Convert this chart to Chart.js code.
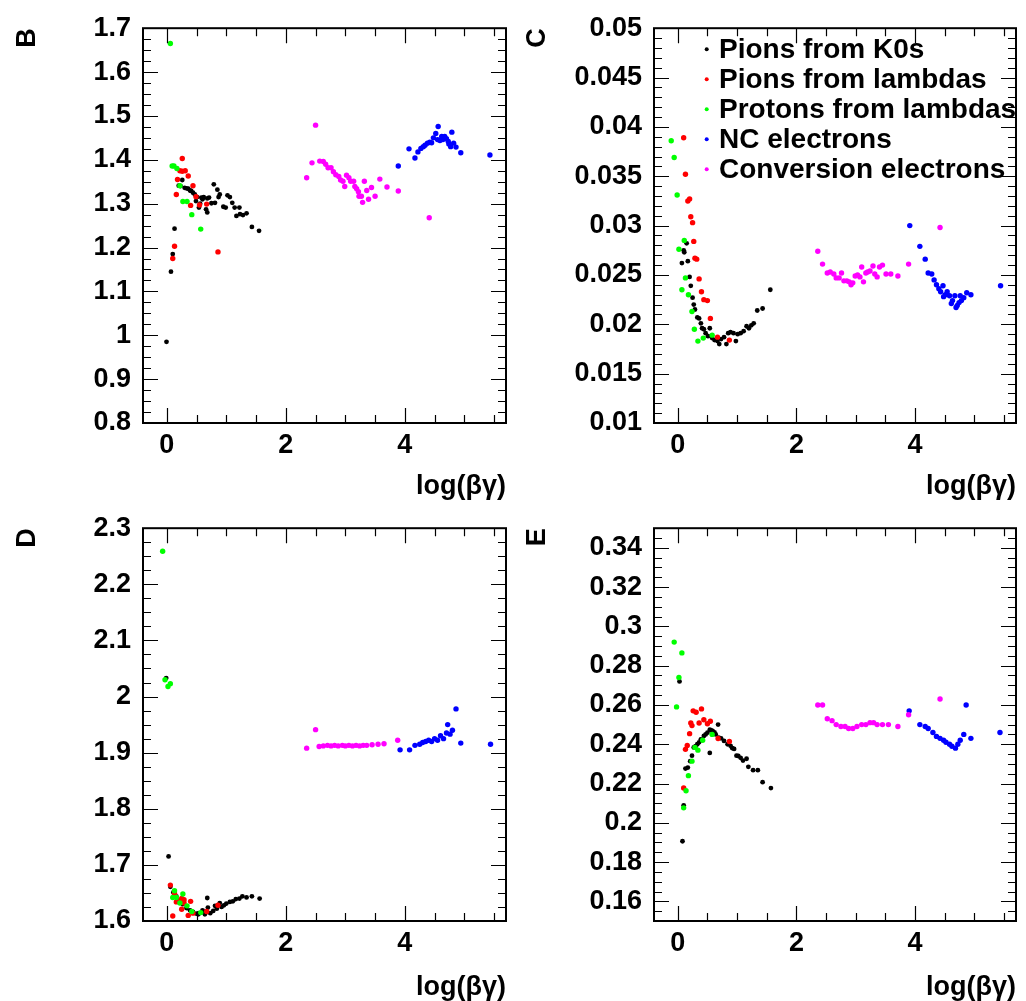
<!DOCTYPE html>
<html>
<head>
<meta charset="utf-8">
<script src="https://cdn.jsdelivr.net/npm/chart.js@4.4.1/dist/chart.umd.min.js"></script>
<style>
  body { margin: 0; background: #fff; }
  .pad { position: absolute; }
</style>
</head>
<body>
<div class="pad" style="left:0;top:0"><canvas id="cB" width="513" height="500"></canvas></div>
<div class="pad" style="left:513px;top:0"><canvas id="cC" width="513" height="500"></canvas></div>
<div class="pad" style="left:0;top:500px"><canvas id="cD" width="513" height="501"></canvas></div>
<div class="pad" style="left:513px;top:500px"><canvas id="cE" width="513" height="501"></canvas></div>
<script>
// series names + colours (same in every pad)
const seriesNames = ['Pions from K0s', 'Pions from lambdas', 'Protons from lambdas', 'NC electrons', 'Conversion electrons'];
const seriesColors = ['#000000', '#ff0000', '#00ff00', '#0000ff', '#ff00ff'];

// tick labels
const xTicks = [0, 2, 4];
const yTicksB = [0.8, 0.9, 1, 1.1, 1.2, 1.3, 1.4, 1.5, 1.6, 1.7];
const yTicksC = [0.01, 0.015, 0.02, 0.025, 0.03, 0.035, 0.04, 0.045, 0.05];
const yTicksD = [1.6, 1.7, 1.8, 1.9, 2, 2.1, 2.2, 2.3];
const yTicksE = [0.16, 0.18, 0.2, 0.22, 0.24, 0.26, 0.28, 0.3, 0.32, 0.34];

// ---- pad B ----
const k0sB = [[-0.005,0.985],[0.07,1.145],[0.10,1.185],[0.13,1.243],[0.20,1.341],[0.23,1.340],[0.26,1.354],[0.30,1.336],[0.33,1.335],[0.36,1.334],[0.39,1.330],[0.41,1.329],[0.44,1.325],[0.47,1.321],[0.51,1.315],[0.49,1.306],[0.54,1.291],[0.56,1.300],[0.58,1.314],[0.60,1.310],[0.62,1.315],[0.68,1.312],[0.71,1.314],[0.66,1.287],[0.68,1.280],[0.75,1.301],[0.81,1.302],[0.79,1.344],[0.85,1.332],[0.87,1.315],[0.89,1.321],[0.95,1.293],[0.99,1.291],[1.02,1.319],[1.06,1.315],[1.10,1.302],[1.14,1.291],[1.17,1.272],[1.22,1.291],[1.23,1.276],[1.28,1.274],[1.34,1.278],[1.43,1.247],[1.55,1.238]];
const piLamB = [[0.26,1.403],[0.22,1.375],[0.26,1.374],[0.31,1.375],[0.18,1.355],[0.36,1.363],[0.16,1.321],[0.44,1.341],[0.49,1.316],[0.40,1.296],[0.55,1.297],[0.67,1.299],[0.13,1.203],[0.10,1.175],[0.86,1.190]];
const pLamB = [[0.06,1.665],[0.09,1.386],[0.12,1.386],[0.17,1.380],[0.22,1.341],[0.27,1.305],[0.34,1.305],[0.42,1.275],[0.57,1.242]];
const ncB = [[3.89,1.386],[4.07,1.425],[4.17,1.404],[4.22,1.418],[4.27,1.426],[4.31,1.430],[4.34,1.433],[4.38,1.438],[4.42,1.440],[4.45,1.439],[4.48,1.450],[4.52,1.460],[4.56,1.476],[4.55,1.446],[4.59,1.444],[4.62,1.453],[4.64,1.446],[4.67,1.453],[4.70,1.448],[4.73,1.442],[4.74,1.436],[4.77,1.430],[4.79,1.463],[4.82,1.438],[4.86,1.429],[4.94,1.416],[5.43,1.411]];
const convB = [[2.50,1.479],[2.35,1.359],[2.44,1.393],[2.57,1.397],[2.63,1.396],[2.67,1.390],[2.71,1.382],[2.76,1.382],[2.80,1.373],[2.84,1.366],[2.89,1.362],[2.92,1.354],[2.96,1.351],[2.99,1.339],[3.02,1.365],[3.06,1.359],[3.09,1.351],[3.14,1.351],[3.16,1.339],[3.19,1.334],[3.22,1.327],[3.23,1.317],[3.27,1.317],[3.29,1.303],[3.32,1.351],[3.36,1.330],[3.39,1.310],[3.44,1.337],[3.50,1.317],[3.58,1.356],[3.70,1.338],[3.89,1.329],[4.41,1.268]];

// ---- pad C ----
const k0sC = [[0.15,0.0282],[0.10,0.0275],[0.11,0.0273],[0.07,0.0262],[0.17,0.0264],[0.20,0.0248],[0.22,0.0239],[0.25,0.0227],[0.27,0.0220],[0.29,0.0215],[0.33,0.0207],[0.36,0.0206],[0.39,0.0201],[0.41,0.0196],[0.44,0.0195],[0.47,0.0191],[0.51,0.0188],[0.54,0.0196],[0.58,0.0186],[0.62,0.0184],[0.67,0.0183],[0.70,0.0180],[0.73,0.0185],[0.78,0.0187],[0.82,0.0180],[0.85,0.0191],[0.89,0.0192],[0.94,0.0191],[0.98,0.0183],[1.01,0.0190],[1.06,0.0191],[1.11,0.0193],[1.16,0.0198],[1.20,0.0196],[1.24,0.0199],[1.28,0.0201],[1.34,0.0214],[1.43,0.0216],[1.56,0.0235]];
const piLamC = [[0.10,0.0389],[0.13,0.0352],[0.20,0.0327],[0.17,0.0325],[0.22,0.0309],[0.25,0.0303],[0.27,0.0284],[0.29,0.0267],[0.32,0.0266],[0.36,0.0246],[0.40,0.0233],[0.44,0.0225],[0.50,0.0224],[0.55,0.0206],[0.67,0.0187],[0.87,0.0184]];
const pLamC = [[-0.11,0.0386],[-0.06,0.0369],[-0.01,0.0331],[0.11,0.0285],[0.02,0.0276],[0.13,0.0247],[0.07,0.0235],[0.18,0.0230],[0.24,0.0213],[0.28,0.0195],[0.34,0.0183],[0.43,0.0186],[0.58,0.0189]];
const ncC = [[3.91,0.0300],[4.08,0.0279],[4.17,0.0266],[4.22,0.0252],[4.28,0.0251],[4.32,0.0245],[4.36,0.0240],[4.40,0.0236],[4.43,0.0233],[4.47,0.0239],[4.48,0.0228],[4.51,0.0230],[4.54,0.0233],[4.58,0.0229],[4.61,0.0221],[4.63,0.0224],[4.67,0.0229],[4.69,0.0217],[4.71,0.0219],[4.74,0.0222],[4.76,0.0229],[4.78,0.0224],[4.82,0.0227],[4.87,0.0232],[4.94,0.0230],[5.44,0.0239]];
const convC = [[2.36,0.0274],[2.44,0.0261],[2.52,0.0252],[2.57,0.0253],[2.63,0.0251],[2.67,0.0247],[2.72,0.0247],[2.76,0.0252],[2.80,0.0244],[2.85,0.0244],[2.89,0.0243],[2.92,0.0240],[2.95,0.0242],[2.99,0.0249],[3.03,0.0250],[3.07,0.0248],[3.10,0.0258],[3.13,0.0243],[3.17,0.0252],[3.20,0.0253],[3.24,0.0254],[3.29,0.0259],[3.32,0.0251],[3.36,0.0248],[3.40,0.0258],[3.45,0.0260],[3.51,0.0251],[3.59,0.0251],[3.71,0.0249],[3.89,0.0261],[4.42,0.0298]];

// ---- pad D ----
const k0sD = [[-0.01,2.033],[0.03,1.715],[0.06,1.661],[0.11,1.651],[0.16,1.644],[0.22,1.637],[0.27,1.630],[0.33,1.623],[0.39,1.619],[0.44,1.616],[0.50,1.613],[0.53,1.612],[0.54,1.614],[0.60,1.619],[0.64,1.616],[0.64,1.612],[0.68,1.641],[0.69,1.624],[0.73,1.614],[0.78,1.618],[0.81,1.627],[0.84,1.622],[0.89,1.632],[0.92,1.625],[0.96,1.628],[1.00,1.631],[1.06,1.634],[1.11,1.635],[1.16,1.639],[1.22,1.640],[1.27,1.644],[1.34,1.642],[1.43,1.644],[1.56,1.640]];
const piLamD = [[0.06,1.664],[0.10,1.609],[0.13,1.649],[0.16,1.634],[0.21,1.635],[0.25,1.640],[0.29,1.638],[0.29,1.632],[0.25,1.621],[0.40,1.635],[0.36,1.610],[0.44,1.614],[0.67,1.617],[0.86,1.628]];
const pLamD = [[-0.07,2.259],[-0.03,2.030],[0.02,2.018],[0.06,2.023],[0.13,1.654],[0.10,1.642],[0.16,1.642],[0.22,1.632],[0.27,1.648],[0.34,1.627],[0.42,1.617],[0.57,1.615]];
const ncD = [[3.92,1.905],[4.08,1.905],[4.17,1.913],[4.25,1.915],[4.30,1.918],[4.35,1.920],[4.40,1.922],[4.45,1.920],[4.50,1.925],[4.55,1.922],[4.60,1.930],[4.65,1.925],[4.70,1.935],[4.72,1.950],[4.76,1.933],[4.80,1.940],[4.86,1.978],[4.94,1.917],[5.44,1.915]];
const convD = [[2.35,1.908],[2.50,1.941],[2.56,1.911],[2.63,1.912],[2.70,1.913],[2.76,1.912],[2.82,1.913],[2.88,1.912],[2.95,1.913],[3.00,1.912],[3.06,1.913],[3.12,1.912],[3.18,1.913],[3.24,1.912],[3.30,1.913],[3.36,1.913],[3.45,1.914],[3.55,1.915],[3.65,1.916],[3.88,1.922]];

// ---- pad E ----
const k0sE = [[0.03,0.272],[0.08,0.1906],[0.10,0.2089],[0.13,0.2276],[0.17,0.2281],[0.21,0.2314],[0.24,0.2342],[0.27,0.2384],[0.30,0.239],[0.33,0.240],[0.36,0.241],[0.39,0.2425],[0.44,0.2442],[0.47,0.245],[0.50,0.2459],[0.54,0.2474],[0.57,0.247],[0.59,0.2467],[0.62,0.246],[0.64,0.245],[0.68,0.250],[0.69,0.2434],[0.73,0.243],[0.78,0.2417],[0.84,0.240],[0.89,0.2392],[0.92,0.238],[0.95,0.2376],[0.54,0.2356],[0.99,0.2342],[1.02,0.234],[1.06,0.2331],[1.10,0.2317],[1.16,0.2326],[1.19,0.2285],[1.27,0.2268],[1.35,0.2268],[1.43,0.2207],[1.57,0.2177]];
const piLamE = [[0.26,0.257],[0.31,0.2563],[0.40,0.258],[0.22,0.2508],[0.24,0.2495],[0.36,0.2508],[0.44,0.2525],[0.50,0.2504],[0.55,0.2517],[0.20,0.2454],[0.16,0.2394],[0.68,0.2429],[0.87,0.2414],[0.10,0.2177],[0.13,0.2374]];
const pLamE = [[-0.06,0.292],[0.07,0.2865],[0.02,0.274],[-0.02,0.259],[0.29,0.2384],[0.34,0.237],[0.42,0.242],[0.58,0.245],[0.10,0.2076],[0.14,0.2163],[0.18,0.224],[0.24,0.2314]];
const ncE = [[3.90,0.257],[4.08,0.250],[4.17,0.249],[4.22,0.248],[4.30,0.246],[4.36,0.244],[4.42,0.243],[4.48,0.242],[4.52,0.241],[4.58,0.240],[4.62,0.239],[4.68,0.238],[4.72,0.240],[4.76,0.242],[4.82,0.245],[4.86,0.260],[4.94,0.243],[5.43,0.246]];
const convE = [[2.36,0.260],[2.44,0.260],[2.52,0.253],[2.60,0.252],[2.67,0.250],[2.75,0.249],[2.82,0.249],[2.88,0.248],[2.95,0.248],[3.02,0.249],[3.10,0.250],[3.17,0.250],[3.24,0.251],[3.30,0.251],[3.36,0.250],[3.45,0.250],[3.55,0.250],[3.71,0.249],[3.89,0.255],[4.42,0.263]];

Chart.defaults.font.family = "'Liberation Sans', Arial, sans-serif";
Chart.defaults.font.weight = 'bold';
Chart.defaults.font.size = 27;
Chart.defaults.color = '#000';

// ROOT-like frame with inward ticks on all four sides
const rootFrame = {
  id: 'rootFrame',
  afterDraw(chart, args, opts) {
    const { ctx, chartArea: a, scales: { x, y } } = chart;
    ctx.save();
    ctx.strokeStyle = '#000';
    ctx.lineWidth = 1.2;
    ctx.beginPath();
    const marks = (scale, step, len, horiz) => {
      const i0 = Math.ceil(scale.min / step - 1e-6), i1 = Math.floor(scale.max / step + 1e-6);
      for (let i = i0; i <= i1; i++) {
        const p = Math.round(scale.getPixelForValue(i * step)) + 0.5;
        if (horiz) {
          ctx.moveTo(p, a.bottom); ctx.lineTo(p, a.bottom - len);
          ctx.moveTo(p, a.top); ctx.lineTo(p, a.top + len);
        } else {
          ctx.moveTo(a.left, p); ctx.lineTo(a.left + len, p);
          ctx.moveTo(a.right, p); ctx.lineTo(a.right - len, p);
        }
      }
    };
    marks(x, opts.xMajor, 15, true);
    marks(x, opts.xMinor, 8, true);
    marks(y, opts.yMajor, 15, false);
    marks(y, opts.yMinor, 8, false);
    ctx.stroke();
    ctx.lineWidth = 2;
    ctx.strokeRect(a.left, a.top, a.right - a.left, a.bottom - a.top);

    if (opts.legend) {
      ctx.font = "bold 28px 'Liberation Sans', Arial, sans-serif";
      ctx.textBaseline = 'alphabetic';
      ctx.textAlign = 'left';
      chart.data.datasets.forEach((ds, i) => {
        ctx.fillStyle = ds.backgroundColor;
        ctx.beginPath();
        ctx.arc(a.left + 52.7, a.top + 21 + 30 * i, 2, 0, Math.PI * 2);
        ctx.fill();
        ctx.fillStyle = '#000';
        ctx.fillText(ds.label, a.left + 65, a.top + 30 + 30 * i);
      });
    }
    ctx.restore();
  }
};

function makePad(id, letter, series, yTicks, yMin, yMax, yMinor, area, titlePad, legend) {
  const cv = document.getElementById(id);
  const W = cv.width, H = cv.height;
  new Chart(cv, {
    type: 'scatter',
    data: {
      datasets: series.map((pts, i) => ({
        label: seriesNames[i],
        data: pts.map(p => ({ x: p[0], y: p[1] })),
        backgroundColor: seriesColors[i],
        borderWidth: 0,
        pointRadius: i === 0 ? 2.4 : 2.7,
        order: 4 - i
      }))
    },
    options: {
      responsive: false,
      animation: false,
      devicePixelRatio: 1,
      layout: { padding: { left: 0, top: area.top, right: W - area.right, bottom: 0 } },
      plugins: {
        legend: { display: false },
        tooltip: { enabled: false },
        rootFrame: { xMajor: 2, xMinor: 0.5, yMajor: yTicks[1] - yTicks[0], yMinor: yMinor, legend: legend }
      },
      scales: {
        x: {
          type: 'linear', min: -0.4, max: 5.7,
          afterBuildTicks: s => { s.ticks = xTicks.map(v => ({ value: v })); },
          afterFit: s => { s.height = H - area.bottom; },
          grid: { display: false, drawTicks: false },
          border: { display: false },
          ticks: { padding: 6, autoSkip: false, maxRotation: 0, callback: v => String(v) },
          title: { display: true, text: 'log(βγ)', align: 'end', font: { size: 27, lineHeight: 1 }, padding: { top: 0, bottom: 0 } }
        },
        y: {
          type: 'linear', min: yMin, max: yMax,
          afterBuildTicks: s => { s.ticks = yTicks.map(v => ({ value: v })); },
          afterFit: s => { s.width = area.left; },
          grid: { display: false, drawTicks: false },
          border: { display: false },
          ticks: { padding: 12, autoSkip: false, callback: v => String(+v.toFixed(4)) },
          title: { display: true, text: letter, align: 'end', font: { size: 27, lineHeight: 1.2 }, padding: { top: titlePad, bottom: 0 } }
        }
      }
    },
    plugins: [rootFrame]
  });
}

makePad('cB', 'B', [k0sB, piLamB, pLamB, ncB, convB], yTicksB, 0.8, 1.7, 0.025,
  { left: 143, top: 22, right: 506, bottom: 423 }, 11, false);
makePad('cC', 'C', [k0sC, piLamC, pLamC, ncC, convC], yTicksC, 0.01, 0.05, 0.001,
  { left: 141, top: 22, right: 503, bottom: 423 }, 8, true);
makePad('cD', 'D', [k0sD, piLamD, pLamD, ncD, convD], yTicksD, 1.6, 2.3, 0.025,
  { left: 143, top: 19, right: 506, bottom: 421 }, 11, false);
makePad('cE', 'E', [k0sE, piLamE, pLamE, ncE, convE], yTicksE, 0.15, 0.35, 0.005,
  { left: 141, top: 19, right: 503, bottom: 421 }, 8, false);
</script>
</body>
</html>
